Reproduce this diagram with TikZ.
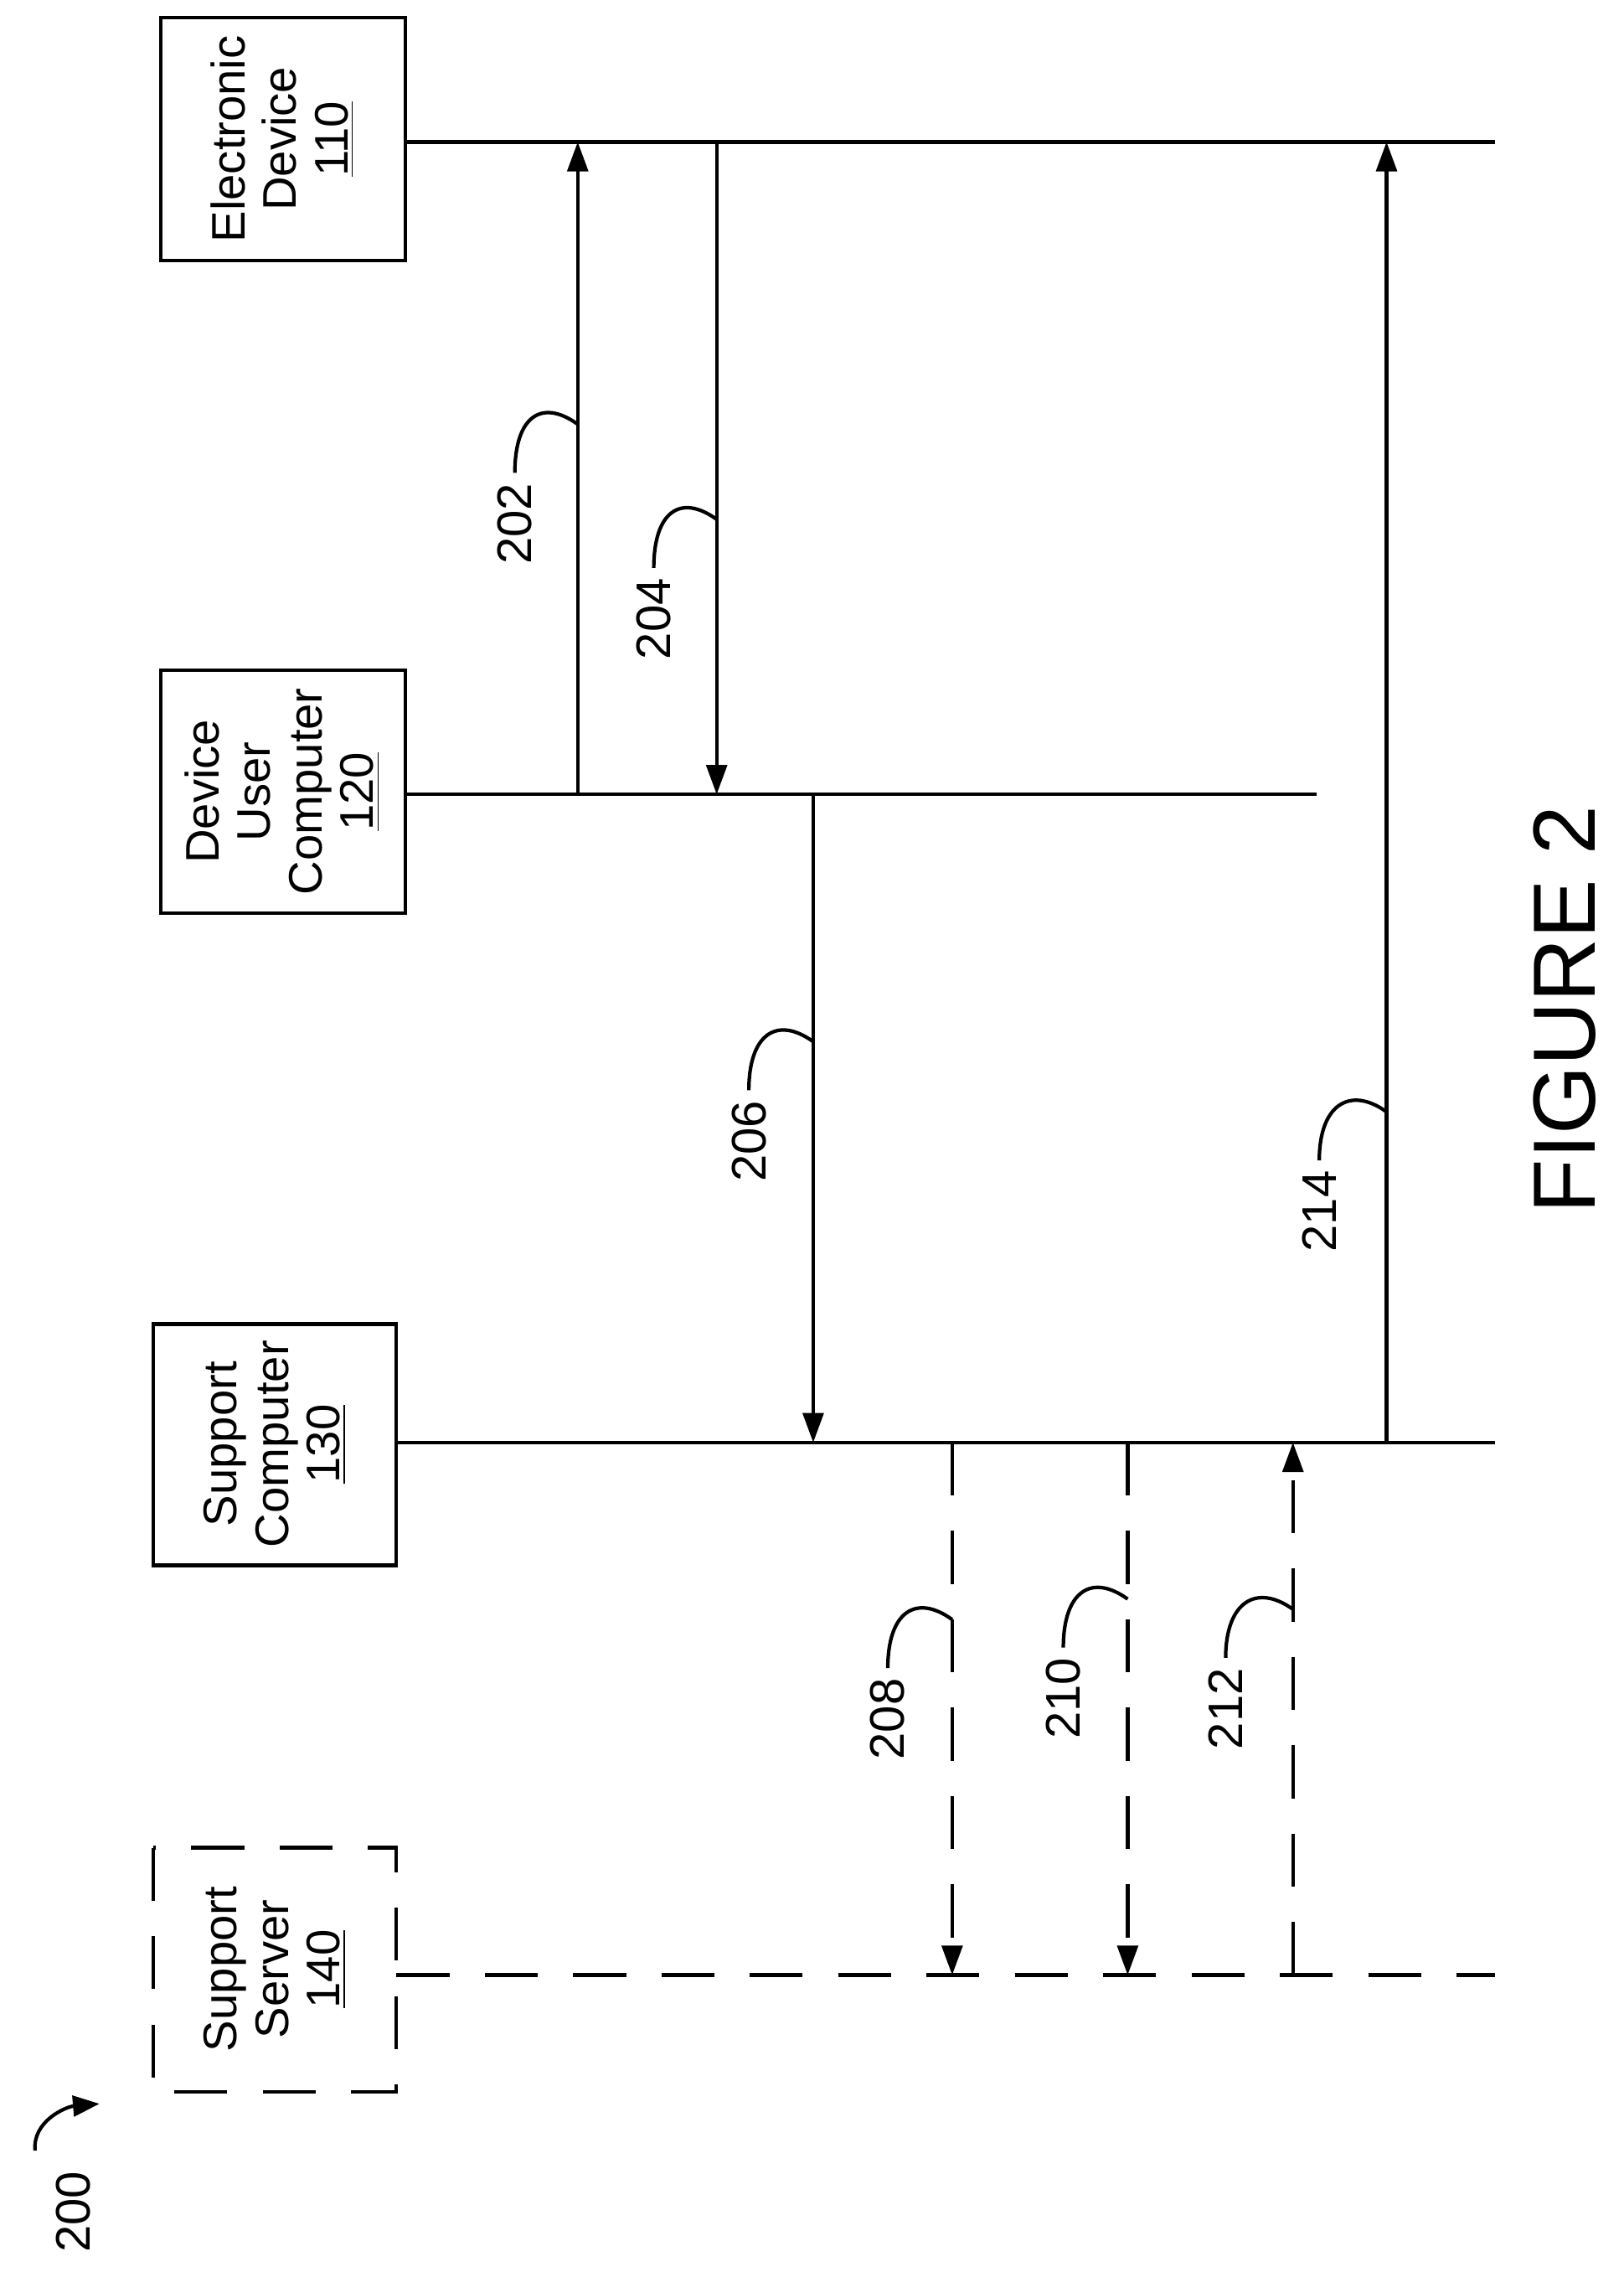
\documentclass[tikz,border=0pt]{standalone}
\usepackage{fontspec}
\setmainfont{Liberation Sans}
\usetikzlibrary{arrows.meta}
\tikzset{
  box/.style={draw, line width=1.2pt, minimum width=0.6cm},
  txt/.style={rotate=90, align=center, font=\fontsize{16}{17.5}\selectfont},
  lbl/.style={rotate=90, font=\fontsize{16.5}{18}\selectfont},
  msg/.style={line width=1.2pt, -{Triangle[length=10pt,width=7pt]}},
  dsh/.style={dash pattern=on 18pt off 12pt}
}
\begin{document}
\begin{tikzpicture}[x=0.01745cm, y=-0.01745cm]
\useasboundingbox (0,0) rectangle (1110,1553);
% boxes
\draw[box] (110,12) rectangle (277,178);
\node[txt] (ed) at (193,95) {Electronic\\Device\\\underline{110}};
\draw[box] (110,458) rectangle (277,624);
\node[txt] (duc) at (193,541) {Device\\User\\Computer\\\underline{120}};
\draw[box] (105,905) rectangle (271,1070);
\node[txt] (sc) at (188,987) {Support\\Computer\\\underline{130}};
\draw[box, dsh] (105,1263) rectangle (271,1430);
\node[txt] (ss) at (188,1346) {Support\\Server\\\underline{140}};
% lifelines
\coordinate (l1a) at (277,97);   \coordinate (l1b) at (1022,97);
\coordinate (l2a) at (277,543);  \coordinate (l2b) at (900,543);
\coordinate (l3a) at (271,986);  \coordinate (l3b) at (1022,986);
\coordinate (l4a) at (271,1350); \coordinate (l4b) at (1022,1350);
\draw[line width=1.2pt] (l1a) -- (l1b);
\draw[line width=1.2pt] (l2a) -- (l2b);
\draw[line width=1.2pt] (l3a) -- (l3b);
\draw[line width=1.2pt, dsh] (l4a) -- (l4b);
% messages
\foreach \x/\ya/\yb/\st in {395/543/97/, 490/97/543/, 556/543/986/, 651/986/1350/dsh, 771/986/1350/dsh, 884/1350/986/dsh, 948/986/97/}
  \draw[msg, \st] (\x,\ya) -- (\x,\yb);
% labels with leaders
\foreach \x/\ly/\lx/\t in {395/290/352/202, 490/355/447/204, 556/712/512/206, 651/1107/607/208, 771/1093/727/210, 884/1100/838/212, 948/760/902/214}{
  \node[lbl] (n\t) at (\lx,\ly+68) {\t};
  \draw[line width=1.2pt] (n\t.east) .. controls (\lx,\ly-5) and (\x-25,\ly-18) .. (\x,\ly);
}
\node[rotate=90, font=\fontsize{30}{33}\selectfont] (fig) at (1070,690) {FIGURE 2};
\node[lbl] (n200) at (50,1512) {200};
\draw[line width=1.2pt, -{Triangle[length=9pt,width=7pt]}] (24,1470) .. controls (22,1450) and (45,1440) .. (68,1438);
\end{tikzpicture}
\end{document}
